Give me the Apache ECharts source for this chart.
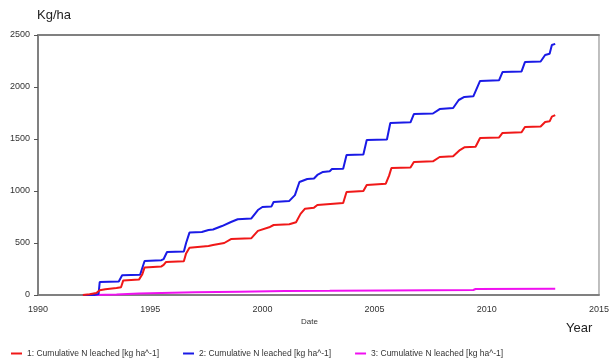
<!DOCTYPE html>
<html>
<head>
<meta charset="utf-8">
<script src="https://cdn.jsdelivr.net/npm/echarts@6/dist/echarts.min.js"></script>
<style>
  html, body { margin: 0; padding: 0; background: #fff; }
  #chart { width: 612px; height: 361px; }
</style>
</head>
<body>
<div id="chart"></div>
<script>
// Cumulative nitrogen leached, kg/ha, per simulated treatment: [year, value]
const seriesNames = [
  '1: Cumulative N leached [kg ha^-1]',
  '2: Cumulative N leached [kg ha^-1]',
  '3: Cumulative N leached [kg ha^-1]'
];

const leached1 = [
  [1992.0, 0], [1992.3, 8], [1992.6, 20], [1992.75, 45], [1993.0, 55], [1993.5, 67],
  [1993.7, 75], [1993.8, 140], [1994.5, 148], [1994.65, 200], [1994.75, 265],
  [1995.5, 275], [1995.6, 290], [1995.7, 317], [1996.5, 325], [1996.6, 400],
  [1996.75, 455], [1997.6, 471], [1997.8, 480], [1998.3, 500], [1998.6, 538],
  [1999.5, 545], [1999.8, 617], [2000.3, 651], [2000.5, 673], [2001.2, 680],
  [2001.5, 700], [2001.7, 780], [2001.9, 830], [2002.3, 840], [2002.45, 865],
  [2003.6, 885], [2003.75, 990], [2004.5, 1000], [2004.65, 1058], [2005.5, 1070],
  [2005.65, 1150], [2005.75, 1221], [2006.6, 1225], [2006.75, 1279], [2007.6, 1285],
  [2007.9, 1327], [2008.5, 1335], [2008.8, 1394], [2009.0, 1420], [2009.5, 1425],
  [2009.7, 1510], [2010.55, 1515], [2010.7, 1558], [2011.55, 1565], [2011.7, 1615],
  [2012.4, 1620], [2012.6, 1663], [2012.8, 1670], [2012.9, 1715], [2013.05, 1730]
];

const leached2 = [
  [1992.0, 0], [1992.5, 0], [1992.7, 10], [1992.75, 125], [1993.6, 130], [1993.75, 190],
  [1994.55, 195], [1994.75, 327], [1995.5, 335], [1995.6, 346], [1995.75, 413],
  [1996.5, 418], [1996.6, 500], [1996.75, 600], [1997.3, 606], [1997.6, 625],
  [1997.8, 630], [1998.2, 663], [1998.6, 702], [1998.9, 728], [1999.5, 735],
  [1999.8, 817], [2000.0, 846], [2000.4, 850], [2000.5, 894], [2001.2, 905],
  [2001.45, 960], [2001.65, 1087], [2002.0, 1115], [2002.3, 1120], [2002.45, 1154],
  [2002.7, 1183], [2003.0, 1190], [2003.1, 1211], [2003.6, 1215], [2003.75, 1346],
  [2004.5, 1350], [2004.65, 1490], [2005.55, 1495], [2005.7, 1654], [2006.6, 1660],
  [2006.75, 1740], [2007.6, 1745], [2007.9, 1788], [2008.5, 1798], [2008.75, 1875],
  [2009.0, 1904], [2009.4, 1910], [2009.7, 2058], [2010.55, 2065], [2010.7, 2144],
  [2011.55, 2150], [2011.7, 2240], [2012.4, 2245], [2012.6, 2308], [2012.8, 2320],
  [2012.9, 2404], [2013.05, 2415]
];

const leached3 = [
  [1992.5, 0], [1993.5, 5], [1994.5, 15], [1995.5, 20], [1997.0, 26], [1999.0, 32],
  [2001.0, 38], [2003.0, 40], [2005.5, 44], [2009.4, 48], [2009.5, 58], [2013.05, 60]
];

const seriesColors = ['#f01818', '#1a1ae6', '#f010f0'];
const yearTicks = [1990, 1995, 2000, 2005, 2010, 2015];

const chart = echarts.init(document.getElementById('chart'), null, { renderer: 'canvas' });

const lineSeries = [leached1, leached2, leached3].map((d, i) => ({
  name: seriesNames[i],
  type: 'line',
  xAxisIndex: 0,
  data: d,
  showSymbol: false,
  symbol: 'none',
  lineStyle: { color: seriesColors[i], width: 2 },
  itemStyle: { color: seriesColors[i] },
  z: 3 + (2 - i)
}));

chart.setOption({
  animation: false,
  backgroundColor: '#fff',
  grid: {
    left: 38, right: 10, top: 35, bottom: 66,
    show: true, borderColor: '#808080', borderWidth: 1
  },
  legend: {
    left: 6, top: 344,
    itemGap: 24,
    itemWidth: 11, itemHeight: 2,
    icon: 'rect',
    textStyle: { fontFamily: 'Liberation Sans, Arial, sans-serif', fontSize: 8.5, color: '#333' },
    data: seriesNames.map((n, i) => ({ name: n, itemStyle: { color: seriesColors[i] } }))
  },
  xAxis: [
    {
      type: 'value',
      position: 'bottom',
      min: yearTicks[0], max: yearTicks[yearTicks.length - 1], interval: 5,
      axisLine: { show: true, onZero: false, lineStyle: { color: '#808080', width: 2 } },
      axisTick: { show: false },
      splitLine: { show: false },
      axisLabel: {
        margin: 10,
        fontFamily: 'Liberation Sans, Arial, sans-serif', fontSize: 9, color: '#333',
        formatter: v => String(v)
      }
    },
    {
      type: 'value',
      position: 'top',
      min: yearTicks[0], max: yearTicks[yearTicks.length - 1], interval: 5,
      axisLine: { show: true, onZero: false, lineStyle: { color: '#808080', width: 2 } },
      axisTick: { show: false },
      axisLabel: { show: false },
      splitLine: { show: false }
    }
  ],
  yAxis: {
    type: 'value',
    min: 0, max: 2500, interval: 500,
    axisLine: { show: true, lineStyle: { color: '#808080', width: 2 } },
    axisTick: { show: true, length: 4, lineStyle: { color: '#555', width: 1 } },
    splitLine: { show: false },
    axisLabel: {
      margin: 8,
      fontFamily: 'Liberation Sans, Arial, sans-serif', fontSize: 9, color: '#333',
      formatter: v => String(v)
    }
  },
  graphic: [
    { type: 'text', left: 37, top: 9,
      style: { text: 'Kg/ha', fontFamily: 'Liberation Sans, Arial, sans-serif', fontSize: 13, fill: '#222' } },
    { type: 'text', left: 301, top: 318,
      style: { text: 'Date', fontFamily: 'Liberation Sans, Arial, sans-serif', fontSize: 8, fill: '#333' } },
    { type: 'text', left: 566, top: 322,
      style: { text: 'Year', fontFamily: 'Liberation Sans, Arial, sans-serif', fontSize: 13, fill: '#222' } }
  ],
  series: lineSeries
});
</script>
</body>
</html>
